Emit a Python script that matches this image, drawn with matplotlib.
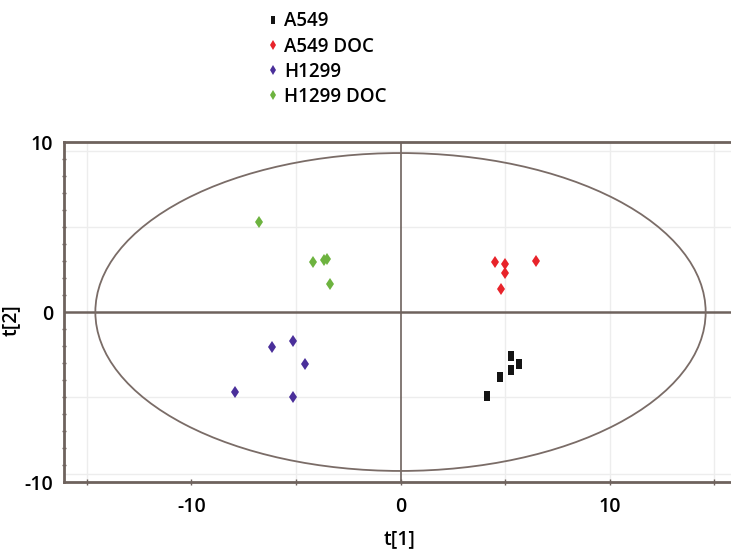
import numpy as np
import matplotlib
matplotlib.use("Agg")
import matplotlib.pyplot as plt
from matplotlib.patches import Ellipse
from matplotlib.ticker import MultipleLocator, FixedLocator

plt.rcParams['font.family'] = ['Open Sans', 'DejaVu Sans']
plt.rcParams['axes.unicode_minus'] = False

# Data (scores t[1], t[2])
a549_x = [5.31, 5.69, 5.31, 4.74, 4.16]
a549_y = [-2.59, -3.06, -3.41, -3.82, -4.94]
a549doc_x = [4.50, 4.98, 5.02, 4.83, 6.46]
a549doc_y = [2.94, 2.82, 2.29, 1.35, 3.00]
h1299_x = [-6.17, -5.12, -4.59, -7.94, -5.12]
h1299_y = [-2.06, -1.71, -3.06, -4.71, -5.00]
h1299doc_x = [-6.79, -4.21, -3.64, -3.54, -3.35]
h1299doc_y = [5.29, 2.94, 3.06, 3.12, 1.65]

labels = ["A549", "A549 DOC", "H1299", "H1299 DOC"]
colors = ["#141414", "#e8232a", "#4a2f9a", "#6db33f"]

ellipse_a = 14.6
ellipse_b = 9.35

xticks = [-10, 0, 10]
yticks = [-10, 0, 10]

fig = plt.figure(figsize=(7.31, 5.5), dpi=100)
ax = fig.add_axes([64/731, (550-482)/550, (737-64)/731, (482-142)/550])
ax.set_xlim(-16.1, 16.1)
ax.set_ylim(-10, 10)

spine_c = "#6e625d"
for s in ["top", "bottom", "left"]:
    ax.spines[s].set_color(spine_c)
    ax.spines[s].set_linewidth(2)
ax.spines["right"].set_visible(False)

# light grid
for gx in [-15, -5, 5, 10, 15]:
    ax.axvline(gx, color="#ededed", lw=1, zorder=0)
for gy in [-9.5, -5, 5, 9.5]:
    ax.axhline(gy, color="#ededed", lw=1, zorder=0)

ax.axhline(0, color=spine_c, lw=1.8, zorder=1)
ax.axvline(0, color=spine_c, lw=1.2, zorder=1)

ell = Ellipse((0, 0), 2*ellipse_a, 2*ellipse_b, fill=False,
              edgecolor="#7a6c67", lw=1.3, zorder=2)
ax.add_patch(ell)

rect = [(-0.55, -1), (0.55, -1), (0.55, 1), (-0.55, 1), (-0.55, -1)]
series = [(a549_x, a549_y), (a549doc_x, a549doc_y),
          (h1299_x, h1299_y), (h1299doc_x, h1299doc_y)]
markers = [rect, "d", "d", "d"]
sizes = [7, 6, 6, 6]
for (xs, ys), lab, c, m, ms in zip(series, labels, colors, markers, sizes):
    ax.plot(xs, ys, linestyle="none", marker=m, color=c, markersize=ms,
            markeredgewidth=0, label=lab, zorder=3)

ax.xaxis.set_major_locator(FixedLocator(xticks))
ax.xaxis.set_minor_locator(MultipleLocator(5))
ax.yaxis.set_major_locator(FixedLocator(yticks))
ax.yaxis.set_minor_locator(MultipleLocator(1))
ax.tick_params(axis="both", which="both", direction="inout", color=spine_c,
               labelsize=14, width=1)
ax.tick_params(axis="x", which="major", length=5, pad=8)
ax.tick_params(axis="x", which="minor", length=5)
ax.tick_params(axis="y", which="major", length=0, pad=8)
ax.tick_params(axis="y", which="minor", length=3)
ax.tick_params(top=False, right=False, which="both")
for t in ax.get_xticklabels() + ax.get_yticklabels():
    t.set_fontweight("semibold")

ax.set_xlabel("t[1]", fontsize=14, fontweight="semibold")
ax.set_ylabel("t[2]", fontsize=14, fontweight="semibold")
ax.xaxis.set_label_coords(336/673, (482-529)/340)
ax.yaxis.set_label_coords((21-64)/673, (482-320)/340)

handles, labs = ax.get_legend_handles_labels()
leg = fig.legend(handles, labs, loc="upper left", bbox_to_anchor=(262/731, 1 - 4/550),
                 frameon=False, handlelength=0.4, handletextpad=0.4,
                 labelspacing=0.27, markerscale=0.85, borderaxespad=0,
                 prop={"size": 13.5, "weight": "semibold"})

fig.savefig("out.png", dpi=100, facecolor="white")
